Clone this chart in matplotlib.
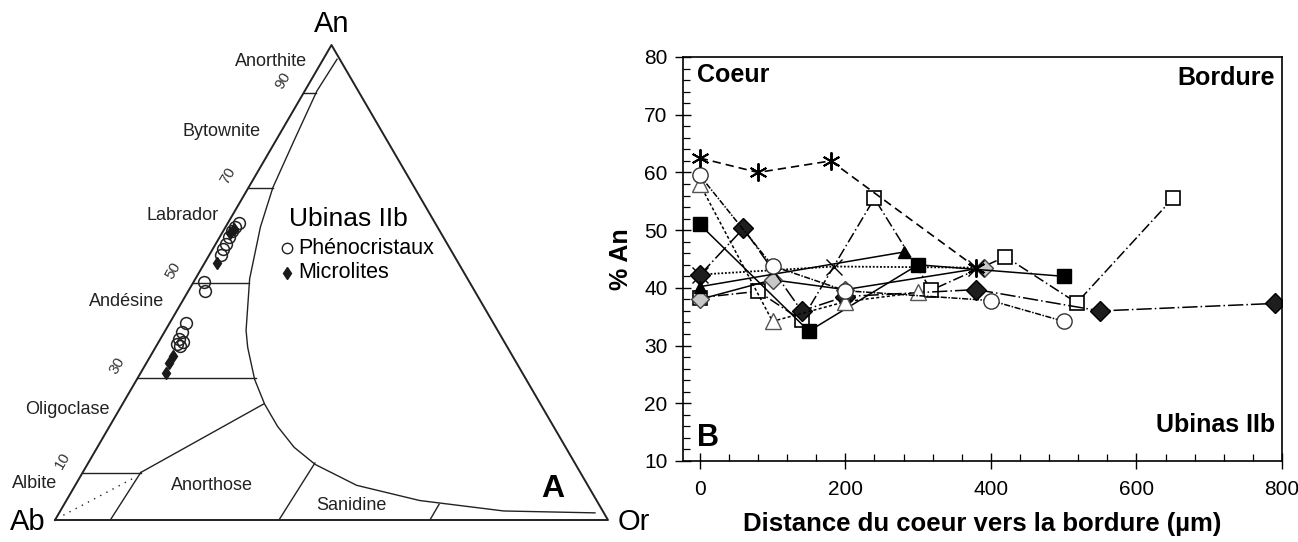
import numpy as np
import matplotlib
matplotlib.use("Agg")
import matplotlib.pyplot as plt
from matplotlib.ticker import MultipleLocator

plt.rcParams['font.family'] = ['Liberation Sans', 'DejaVu Sans']

# ---- ternary data (An %, Or %) ----
curve_an = [97, 90.3, 79.8, 70, 61.7, 50.8, 39.9, 36.3, 29.6, 24.4, 19.7, 15.3, 11.7, 7.3, 4.1, 1.9, 1.5]
curve_or = [2.5, 2.2, 3.3, 4.4, 6.3, 9.8, 14.6, 16.7, 21.3, 25.7, 30.4, 35.6, 41.2, 50.9, 63.9, 80.2, 96.9]

grid_an = [90, 70, 50, 30, 10]
grid_or_end = [2.2, 4.4, 10.0, 21.3, 10.5]
grid_labels = ['90', '70', '50', '30', '10']

pheno_an = [62.6, 61.7, 60.8, 59.5, 58.2, 57.0, 55.7, 50.2, 48.3, 41.4, 39.6, 38.1, 36.7, 37.4, 37.0]
pheno_or = [1.9, 1.7, 1.6, 1.7, 1.8, 1.8, 2.1, 1.8, 2.9, 3.0, 3.1, 3.3, 4.3, 4.4, 3.5]
micro_an = [61.3, 60.4, 54.1, 34.5, 33.1, 30.9]
micro_or = [1.8, 1.5, 2.2, 4.0, 4.0, 4.6]

fields = ['Anorthite', 'Bytownite', 'Labrador', 'Andésine', 'Oligoclase', 'Albite',
          'Anorthose', 'Sanidine']

# ---- profile data (distance um, % An) ----
ast_x = [0, 80, 180, 380]
ast_y = [62.5, 60, 62, 43.5]
circ_x = [0, 100, 200, 400, 500]
circ_y = [59.5, 43.8, 39.5, 37.8, 34.2]
tri_o_x = [0, 100, 200, 300]
tri_o_y = [58, 34.2, 37.6, 39.2]
sq_b_x = [0, 150, 300, 500]
sq_b_y = [51, 32.5, 44, 42]
tri_b_x = [0, 280]
tri_b_y = [40.2, 46.2]
dia_b_x = [0, 60, 140, 200, 380, 550, 790]
dia_b_y = [42.2, 50.3, 36, 38.5, 39.7, 36, 37.3]
cross_x = [0, 185, 380]
cross_y = [42.3, 43.7, 43.5]
dia_g_x = [0, 100, 200, 390]
dia_g_y = [38, 41.4, 39.7, 43.5]
sq_o_x = [0, 80, 140, 240, 318, 420, 518, 650]
sq_o_y = [38.3, 39.4, 34.4, 55.5, 39.6, 45.4, 37.4, 55.5]

S3 = np.sqrt(3) / 2


def tern(an, orr):
    an = np.asarray(an) / 100.0
    orr = np.asarray(orr) / 100.0
    return orr + an / 2, an * S3


fig = plt.figure(figsize=(12.98, 5.42), dpi=100)

# ================= ternary =================
ax1 = fig.add_axes([0, 0, 650 / 1298, 1])
ax1.set_xlim(-0.0995, 1.076)
yscale = 475 / S3            # px per data unit in y
ax1.set_ylim(-22 / yscale, (542 - 22) / yscale)
ax1.axis('off')
lc = '#222222'
ax1.plot([0, 1, 0.5, 0], [0, 0, S3, 0], color=lc, lw=1.4)
cx, cy = tern(curve_an, curve_or)
ax1.plot(cx, cy, color=lc, lw=1.0)
for a, o, lab in zip(grid_an, grid_or_end, grid_labels):
    x0, y0 = tern(a, 0)
    x1, y1 = tern(a, o)
    ax1.plot([x0, x1], [y0, y1], color=lc, lw=1.0)
    ax1.text(x0 - 0.037, y0 + 0.022, lab, rotation=60, fontsize=11,
             ha='center', va='center', color='#333333')

segs = [((10, 10.5), (0, 10)), ((10, 10.5), (24.4, 25.5)),
        ((12, 41), (0, 40.5)), ((3.3, 67.8), (0, 67.8))]
for p, q in segs:
    x, y = tern([p[0], q[0]], [p[1], q[1]])
    ax1.plot(x, y, color=lc, lw=1.0)
x, y = tern([1, 9], [1, 10])
ax1.plot(x, y, color=lc, lw=1.0, ls=(0, (1, 4)))

px, py = tern(pheno_an, pheno_or)
ax1.plot(px, py, 'o', mfc='none', mec='#222222', ms=8.5, mew=1.1, ls='none')
mx, my = tern(micro_an, micro_or)
ax1.plot(mx, my, 'd', color='#1a1a1a', ms=6.5, ls='none')

ax1.text(0.5, (520 - 24) / yscale, 'An', fontsize=21, ha='center', va='center')
ax1.text(-0.05, -0.004, 'Ab', fontsize=21, ha='center', va='center')
ax1.text(1.046, -0.004, 'Or', fontsize=21, ha='center', va='center')
ax1.text(0.901, 31 / yscale, 'A', fontsize=23, fontweight='bold', ha='center', va='center')

field_pos = [(0.390, 459), (0.302, 389), (0.230, 305), (0.129, 218),
             (0.023, 110), (-0.037, 36), (0.284, 35), (0.536, 15)]
for (fx, fy), name in zip(field_pos, fields):
    ax1.text(fx, fy / yscale, name, fontsize=13, ha='center', va='center', color='#222222')

ax1.text(0.423, 301 / yscale, 'Ubinas IIb', fontsize=19, ha='left', va='center')
ax1.plot([0.4195], [272 / yscale], 'o', mfc='none', mec='#222222', ms=7.5, mew=1.0)
ax1.text(0.440, 272 / yscale, 'Phénocristaux', fontsize=15.5, ha='left', va='center')
ax1.plot([0.4195], [247 / yscale], 'd', color='#1a1a1a', ms=6.5)
ax1.text(0.440, 247 / yscale, 'Microlites', fontsize=15.5, ha='left', va='center')

# ================= profiles =================
ax2 = fig.add_axes([683 / 1298, 1 - 461 / 542, (1282 - 683) / 1298, (461 - 57) / 542])
ax2.set_xlim(-23, 800)
ax2.set_ylim(10, 80)
ax2.xaxis.set_major_locator(MultipleLocator(200))
ax2.xaxis.set_minor_locator(MultipleLocator(40))
ax2.yaxis.set_major_locator(MultipleLocator(10))
ax2.yaxis.set_minor_locator(MultipleLocator(2))
ax2.tick_params(which='major', direction='inout', length=12, width=1.0, labelsize=15, pad=5)
ax2.tick_params(axis='x', which='major', pad=8)
ax2.tick_params(which='minor', direction='in', length=5, width=0.9)
for sp in ax2.spines.values():
    sp.set_linewidth(1.2)

k = 'black'
lw = 1.1
ax2.plot(sq_o_x, sq_o_y, color=k, lw=lw, ls=(0, (7, 2, 1, 2)), marker='s',
         mfc='white', mec=k, ms=10, mew=1.2)
ax2.plot(dia_g_x, dia_g_y, color=k, lw=lw, ls='-', marker='D',
         mfc='#c8c8c8', mec='#444444', ms=9, mew=1.0)
ax2.plot(cross_x, cross_y, color=k, lw=1.3, ls=(0, (1, 1)), marker='x',
         mec=k, ms=11, mew=1.0)
ax2.plot(dia_b_x, dia_b_y, color=k, lw=lw, ls=(0, (10, 2, 1, 2)), marker='D',
         mfc='#1e1e1e', mec=k, ms=10, mew=1.0)
ax2.plot(tri_b_x, tri_b_y, color=k, lw=lw, ls='-', marker='^',
         mfc=k, mec=k, ms=9)
ax2.plot(sq_b_x, sq_b_y, color=k, lw=lw, ls='-', marker='s',
         mfc=k, mec=k, ms=10)
ax2.plot(tri_o_x, tri_o_y, color=k, lw=lw, ls=(0, (2, 1.5)), marker='^',
         mfc='white', mec='#555555', ms=11, mew=1.0)
ax2.plot(circ_x, circ_y, color=k, lw=lw, ls=(0, (4, 1, 1, 1)), marker='o',
         mfc='white', mec='#333333', ms=11, mew=1.0)
ax2.plot(ast_x, ast_y, color=k, lw=1.2, ls=(0, (5, 3)), marker=(6, 2, 0),
         mec=k, ms=13, mew=1.4)

ax2.text(-4, 76.8, 'Coeur', fontsize=18, fontweight='bold', ha='left', va='center')
ax2.text(790, 76.3, 'Bordure', fontsize=18, fontweight='bold', ha='right', va='center')
ax2.text(790, 16.2, 'Ubinas IIb', fontsize=18, fontweight='bold', ha='right', va='center')
ax2.text(-4, 14.0, 'B', fontsize=22, fontweight='bold', ha='left', va='center')

ax2.set_xlabel('Distance du coeur vers la bordure (µm)', fontsize=18.5,
               fontweight='bold', labelpad=9)
ax2.set_ylabel('% An', fontsize=18, fontweight='bold', labelpad=8)

fig.savefig('out.png', dpi=100)
